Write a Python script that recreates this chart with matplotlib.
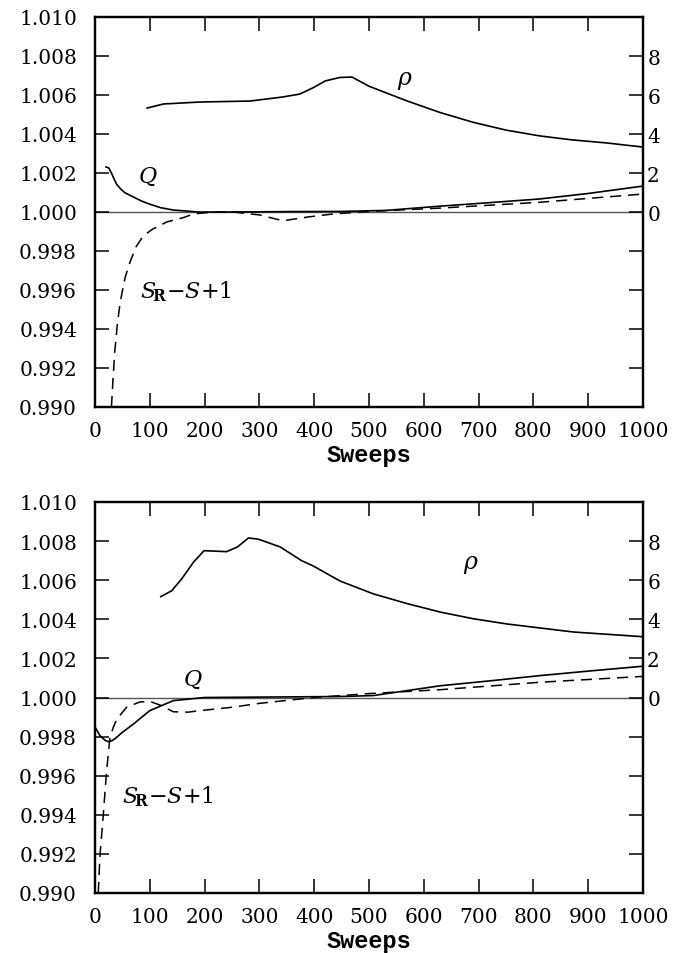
import matplotlib
matplotlib.use("Agg")
import matplotlib.pyplot as plt
import numpy as np

plt.rcParams['font.family'] = ['DejaVu Serif']
plt.rcParams['mathtext.fontset'] = 'dejavuserif'
plt.rcParams['lines.scale_dashes'] = False

# ---------------- data: top panel ----------------
top_rho_x = [95, 125, 192, 283, 343, 374, 400, 420, 447, 469, 500, 569, 630, 690, 750, 812, 870, 934, 1000]
top_rho_y = [5.33, 5.54, 5.64, 5.69, 5.9, 6.05, 6.4, 6.72, 6.9, 6.92, 6.45, 5.7, 5.1, 4.6, 4.2, 3.9, 3.7, 3.54, 3.33]

top_q_x = [20, 25, 30, 35, 40, 48, 55, 70, 85, 100, 120, 143, 190, 250, 350, 450, 530, 630, 720, 812, 900, 1000]
top_q_y = [1.00231, 1.00226, 1.0020, 1.00168, 1.0014, 1.00115, 1.00098, 1.00077, 1.00056, 1.0004, 1.00022, 1.0001, 1.0000, 1.0000, 1.00002, 1.00003, 1.00008, 1.0003, 1.00048, 1.00067, 1.00095, 1.00133]

top_s_x = [30, 33, 36, 41, 46, 55, 64, 75, 88, 105, 118, 131, 160, 180, 215, 252, 300, 343, 390, 435, 500, 630, 812, 1000]
top_s_y = [0.990, 0.9915, 0.99282, 0.9943, 0.99538, 0.99665, 0.99744, 0.99822, 0.99877, 0.99912, 0.9993, 0.99949, 0.9997, 0.9999, 1.0000, 1.0000, 0.99985, 0.99955, 0.99975, 0.9999, 1.00003, 1.0002, 1.0005, 1.00092]

# ---------------- data: bottom panel ----------------
bot_rho_x = [120, 140, 158, 180, 199, 240, 260, 280, 298, 338, 377, 398, 447, 508, 570, 630, 690, 752, 873, 1000]
bot_rho_y = [5.16, 5.46, 6.06, 6.93, 7.51, 7.46, 7.7, 8.16, 8.1, 7.7, 7.0, 6.73, 5.96, 5.3, 4.8, 4.37, 4.03, 3.76, 3.35, 3.11]

bot_q_x = [0, 9, 18, 24, 30, 36, 50, 70, 100, 143, 200, 300, 447, 508, 630, 720, 812, 900, 1000]
bot_q_y = [0.99849, 0.99805, 0.99782, 0.99774, 0.99778, 0.99788, 0.99822, 0.99864, 0.99933, 0.99984, 1.0000, 1.00002, 1.00005, 1.0001, 1.0006, 1.00085, 1.00112, 1.00135, 1.0016]

bot_s_x = [6, 9, 15, 21, 27, 33, 40, 58, 82, 100, 120, 143, 170, 192, 250, 300, 350, 400, 500, 630, 812, 1000]
bot_s_y = [0.990, 0.99191, 0.99395, 0.99619, 0.99788, 0.99845, 0.9989, 0.99951, 0.99977, 0.9998, 0.9996, 0.99927, 0.99925, 0.99933, 0.9995, 0.9997, 0.99985, 1.0000, 1.0002, 1.0004, 1.00078, 1.00108]

xticks = [0, 100, 200, 300, 400, 500, 600, 700, 800, 900, 1000]
yticks_left = [0.990, 0.992, 0.994, 0.996, 0.998, 1.000, 1.002, 1.004, 1.006, 1.008, 1.010]
yticks_right = [-8, -6, -4, -2, 0, 2, 4, 6, 8]
right_labels = ['' if v < 0 else str(v) for v in yticks_right]

panels = [
    dict(rho=(top_rho_x, top_rho_y), q=(top_q_x, top_q_y), s=(top_s_x, top_s_y),
         rho_lab=(566, 6.8), q_lab=(97, 1.00185), s_lab=(83, 0.99595),
         rect=[95/684, 1-408/954, 548/684, 390/954]),
    dict(rho=(bot_rho_x, bot_rho_y), q=(bot_q_x, bot_q_y), s=(bot_s_x, bot_s_y),
         rho_lab=(686, 6.83), q_lab=(179, 1.00095), s_lab=(49, 0.99496),
         rect=[95/684, 1-894/954, 548/684, 391/954]),
]

fig = plt.figure(figsize=(6.84, 9.54), dpi=100)

for p in panels:
    ax = fig.add_axes(p['rect'])
    ax2 = ax.twinx()
    ax.set_xlim(0, 1000)
    ax.set_ylim(0.990, 1.010)
    ax2.set_ylim(-10, 10)

    ax.axhline(1.0, color='#555555', lw=1.0, zorder=1)
    ax.plot(*p['q'], color='black', lw=1.2)
    ax.plot(*p['s'], color='black', lw=1.1, dashes=(8, 5))
    ax2.plot(*p['rho'], color='black', lw=1.2)

    ax.set_xticks(xticks)
    ax.set_xticklabels([str(v) for v in xticks])
    ax.set_yticks(yticks_left)
    ax.set_yticklabels([f"{v:.3f}" for v in yticks_left])
    ax2.set_yticks(yticks_right)
    ax2.set_yticklabels(right_labels)

    ax.tick_params(axis='x', direction='in', length=10, width=1.1, top=True, labeltop=False,
                   labelsize=14.5, pad=10)
    ax.tick_params(axis='y', direction='in', length=10, width=1.1, labelsize=14.5, pad=13)
    ax2.tick_params(axis='y', direction='in', length=10, width=1.1, labelsize=14.5, pad=3)
    for t in (ax.xaxis.get_major_ticks()[0], ax.xaxis.get_major_ticks()[-1]):
        t.tick1line.set_visible(False)
        t.tick2line.set_visible(False)
    for sp in list(ax.spines.values()) + list(ax2.spines.values()):
        sp.set_linewidth(1.6)

    ax.set_xlabel('Sweeps', fontsize=17, labelpad=2, x=0.5,
                  family=['Liberation Mono'], fontweight='bold')

    ax2.text(p['rho_lab'][0], p['rho_lab'][1], r'$\rho$', fontsize=17, ha='center', va='center')
    ax.text(p['q_lab'][0], p['q_lab'][1], r'$Q$', fontsize=16, ha='center', va='center')
    ax.text(p['s_lab'][0], p['s_lab'][1], r'$S_{\!\mathbf{R}}{-}S{+}1$', fontsize=16, ha='left', va='center')

fig.savefig('out.png', dpi=100)
